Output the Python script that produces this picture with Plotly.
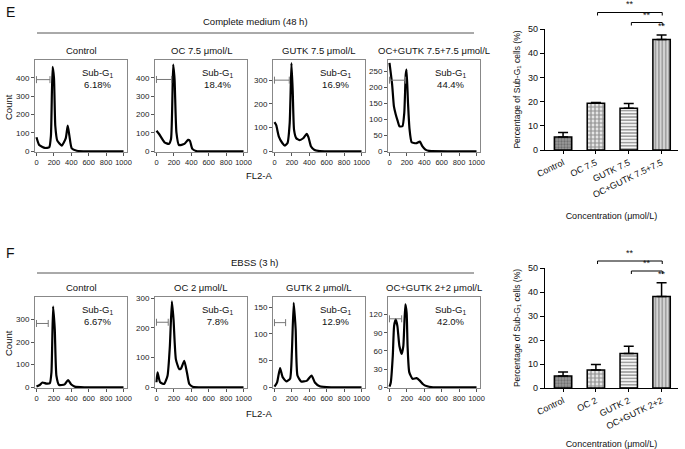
import plotly.graph_objects as go

W, H = 685, 449
FONT = "Liberation Sans, Arial, sans-serif"

# ---------------- data ----------------
e_titles = ["Control", "OC 7.5 μmol/L", "GUTK 7.5 μmol/L", "OC+GUTK 7.5+7.5 μmol/L"]
f_titles = ["Control", "OC 2 μmol/L", "GUTK 2 μmol/L", "OC+GUTK 2+2 μmol/L"]
e_subg1 = ["6.18%", "18.4%", "16.9%", "44.4%"]
f_subg1 = ["6.67%", "7.8%", "12.9%", "42.0%"]

# flow cytometry histograms (FL2-A vs Count)
e1_x = [0, 31, 97, 147, 166, 185, 201, 216, 239, 290, 336, 359, 378, 405, 463, 600, 1000]
e1_y = [76, 34, 18, 22, 85, 460, 400, 139, 58, 31, 70, 140, 85, 16, 3, 0, 0]
e2_x = [0, 30, 92, 142, 167, 192, 208, 229, 258, 321, 362, 383, 412, 467, 600, 1000]
e2_y = [112, 94, 49, 40, 67, 472, 391, 103, 34, 40, 62, 58, 13, 0, 0, 0]
e3_x = [0, 20, 50, 90, 120, 150, 175, 195, 210, 225, 250, 290, 330, 370, 390, 420, 460, 520, 1000]
e3_y = [123, 110, 62, 35, 24, 35, 120, 372, 250, 90, 55, 47, 55, 73, 60, 20, 5, 1, 0]
e4_x = [0, 30, 51, 72, 94, 115, 149, 170, 187, 196, 213, 230, 255, 306, 349, 379, 413, 455, 1000]
e4_y = [276, 210, 140, 115, 95, 78, 78, 120, 240, 255, 150, 70, 28, 25, 30, 15, 5, 1, 0]
f1_x = [0, 38, 69, 115, 153, 172, 191, 210, 229, 260, 324, 363, 400, 439, 550, 1000]
f1_y = [3, 10, 21, 16, 18, 66, 357, 257, 51, 10, 13, 32, 12, 3, 0, 0]
f2_x = [0, 12, 42, 88, 127, 154, 177, 196, 223, 262, 281, 319, 350, 377, 415, 550, 1000]
f2_y = [17, 50, 17, 11, 39, 139, 289, 228, 94, 61, 63, 89, 50, 11, 2, 0, 0]
f3_x = [0, 30, 64, 94, 136, 179, 200, 221, 243, 264, 306, 370, 426, 464, 519, 650, 1000]
f3_y = [1, 9, 36, 19, 11, 16, 66, 158, 109, 22, 11, 12, 22, 9, 2, 0, 0]
f4_x = [0, 15, 38, 53, 72, 91, 114, 140, 159, 182, 197, 208, 227, 265, 311, 348, 386, 424, 500, 1000]
f4_y = [1, 8, 52, 101, 112, 101, 68, 55, 68, 137, 123, 68, 25, 14, 15, 11, 5, 2, 0, 0]

hist_x = [e1_x, e2_x, e3_x, e4_x, f1_x, f2_x, f3_x, f4_x]
hist_y = [e1_y, e2_y, e3_y, e4_y, f1_y, f2_y, f3_y, f4_y]
hist_ymax = [497, 497, 385, 285, 399, 304, 169, 149]
hist_dtick = [100, 100, 100, 50, 100, 100, 50, 30]
# sub-G1 gate (end of gate on FL2-A, height on Count axis)
gate_end = [155, 175, 170, 185, 135, 135, 128, 140]
gate_y = [390, 391, 300, 222, 282, 219, 121, 113]

# bar charts: percentage of sub-G1 cells
e_cats = ["Control", "OC 7.5", "GUTK 7.5", "OC+GUTK 7.5+7.5"]
e_vals = [5.4, 19.3, 17.3, 45.7]
e_err = [1.8, 0.3, 1.9, 1.8]
f_cats = ["Control", "OC 2", "GUTK 2", "OC+GUTK 2+2"]
f_vals = [5.0, 7.5, 14.4, 38.1]
f_err = [1.7, 2.3, 3.0, 5.8]

# ---------------- layout helpers ----------------
def px(x):
    return x / W

def py(y):
    return 1 - y / H

hist_left = [35, 155, 273, 388]
hist_w = 92
row_tb = [(60, 152), (297, 388)]

fig = go.Figure()
annotations = []
shapes = []

def axname(prefix, n):
    return prefix if n == 1 else f"{prefix}{n}"

for i in range(8):
    n = i + 1
    row = i // 4
    col = i % 4
    xr = "x" if n == 1 else f"x{n}"
    yr = "y" if n == 1 else f"y{n}"
    fig.add_trace(go.Scatter(
        x=hist_x[i], y=hist_y[i], mode="lines",
        line=dict(color="black", width=2.2, shape="spline", smoothing=0.5),
        xaxis=xr, yaxis=yr, showlegend=False, hoverinfo="skip"))
    fig.add_trace(go.Scatter(
        x=[0, gate_end[i]], y=[gate_y[i], gate_y[i]], mode="lines+markers",
        line=dict(color="#777", width=1),
        marker=dict(symbol="line-ns-open", size=5, color="#777", line=dict(width=1, color="#777")),
        xaxis=xr, yaxis=yr, showlegend=False, hoverinfo="skip", cliponaxis=False))
    top, bot = row_tb[row]
    left = hist_left[col]
    fig.update_layout(**{
        axname("xaxis", n): dict(
            domain=[px(left), px(left + hist_w)], anchor=yr, range=[-17, 1040],
            tickvals=[0, 200, 400, 600, 800, 1000], ticks="outside", ticklen=3,
            tickcolor="#555", showline=True, mirror=True, linecolor="#888", linewidth=1,
            showgrid=False, zeroline=False, automargin=False,
            tickfont=dict(size=7.5, color="#222", family=FONT)),
        axname("yaxis", n): dict(
            domain=[py(bot), py(top)], anchor=xr, range=[-hist_ymax[i] * 0.008, hist_ymax[i]],
            dtick=hist_dtick[i], tick0=0, ticks="outside", ticklen=3, tickcolor="#555",
            showline=True, mirror=True, linecolor="#888", linewidth=1,
            showgrid=False, zeroline=False, automargin=False,
            tickfont=dict(size=8, color="#222", family=FONT)),
    })
    title = (e_titles if row == 0 else f_titles)[col]
    pct = (e_subg1 if row == 0 else f_subg1)[col]
    annotations.append(dict(text=title, xref="paper", yref="paper",
                            x=px(left + hist_w / 2), y=py(top - 10), xanchor="center",
                            yanchor="middle", showarrow=False,
                            font=dict(size=9.5, color="#111", family=FONT)))
    annotations.append(dict(text="Sub-G<sub>1</sub><br>" + pct, xref=f"{xr} domain",
                            yref=f"{yr} domain", x=0.87, y=0.95, xanchor="right",
                            yanchor="top", align="center", showarrow=False,
                            font=dict(size=9.5, color="#111", family=FONT)))

# bar charts
bar_specs = [
    (9, e_cats, e_vals, e_err, (29, 150)),
    (10, f_cats, f_vals, f_err, (268, 388)),
]
for n, cats, vals, err, (top, bot) in bar_specs:
    xr, yr = f"x{n}", f"y{n}"
    fig.add_trace(go.Bar(
        x=cats, y=vals, xaxis=xr, yaxis=yr, width=0.53,
        marker=dict(
            color=["#9a9a9a", "white", "white", "white"],
            line=dict(color="black", width=1.5),
            pattern=dict(shape=[".", ".", "-", "|"],
                         fgcolor=["#333", "black", "black", "black"],
                         bgcolor=["#b5b5b5", "white", "white", "white"],
                         size=[3, 4, 3.2, 3.4], solidity=[0.45, 0.7, 0.55, 0.72],
                         fillmode="overlay")),
        error_y=dict(type="data", array=err, arrayminus=[0, 0, 0, 0], symmetric=False,
                     color="black", thickness=1.5, width=5),
        showlegend=False, hoverinfo="skip"))
    fig.update_layout(**{
        f"xaxis{n}": dict(domain=[px(545), px(678)], anchor=yr, range=[-0.55, 3.5],
                          type="category", showline=True, linecolor="black", linewidth=1.2,
                          ticks="outside", ticklen=3, tickcolor="black", tickangle=-26,
                          showgrid=False, automargin=False,
                          tickfont=dict(size=9, color="#111", family=FONT),
                          title=dict(text="Concentration (μmol/L)", standoff=13,
                                     font=dict(size=9, color="#111", family=FONT))),
        f"yaxis{n}": dict(domain=[py(bot), py(top)], anchor=xr, range=[0, 50], dtick=10,
                          showline=True, linecolor="black", linewidth=1.2, ticks="outside",
                          ticklen=4, tickcolor="black", showgrid=False, zeroline=False,
                          automargin=False,
                          tickfont=dict(size=9, color="#111", family=FONT),
                          title=dict(text="Percentage of Sub-G<sub>1</sub> cells (%)", standoff=6,
                                     font=dict(size=8.5, color="#111", family=FONT))),
    })

# significance brackets (x on category axis, y in image pixels)
def bracket(n, xa, xb, yline, drop):
    xr = f"x{n}"
    for (x0, y0, x1, y1) in [(xa, yline, xb, yline), (xa, yline, xa, yline + drop),
                             (xb, yline, xb, yline + drop)]:
        shapes.append(dict(type="line", xref=xr, yref="paper", x0=x0, x1=x1,
                           y0=py(y0), y1=py(y1), line=dict(color="black", width=1)))
    annotations.append(dict(text="**", xref=xr, yref="paper", x=(xa + xb) / 2,
                            y=py(yline - 1), yanchor="bottom", showarrow=False,
                            font=dict(size=9, color="#111", family=FONT)))

bracket(9, 1.05, 3.02, 12.5, 3)
bracket(9, 2.08, 3.02, 22.5, 3)
annotations.append(dict(text="**", xref="x9", yref="paper", x=3, y=py(33), yanchor="bottom",
                        showarrow=False, font=dict(size=9, color="#111", family=FONT)))
bracket(10, 1.05, 3.02, 261, 3)
bracket(10, 2.08, 3.02, 271, 3)
annotations.append(dict(text="**", xref="x10", yref="paper", x=3, y=py(281), yanchor="bottom",
                        showarrow=False, font=dict(size=9, color="#111", family=FONT)))

# headers, panel letters, shared axis labels
for letter, ly, header, hy, liney, fly, cy in [
    ("E", 12, "Complete medium (48 h)", 21, 33, 176, 107),
    ("F", 253, "EBSS (3 h)", 262, 273, 413, 343),
]:
    annotations.append(dict(text=letter, xref="paper", yref="paper", x=px(4), y=py(ly),
                            xanchor="left", yanchor="middle", showarrow=False,
                            font=dict(size=14, color="#111", family=FONT)))
    annotations.append(dict(text=header, xref="paper", yref="paper", x=px(255), y=py(hy),
                            xanchor="center", yanchor="middle", showarrow=False,
                            font=dict(size=9.5, color="#111", family=FONT)))
    shapes.append(dict(type="line", xref="paper", yref="paper", x0=px(37), x1=px(474),
                       y0=py(liney), y1=py(liney), line=dict(color="#555", width=1)))
    annotations.append(dict(text="FL2-A", xref="paper", yref="paper", x=px(259), y=py(fly),
                            xanchor="center", yanchor="middle", showarrow=False,
                            font=dict(size=9.5, color="#111", family=FONT)))
    annotations.append(dict(text="Count", xref="paper", yref="paper", x=px(8), y=py(cy),
                            xanchor="center", yanchor="middle", showarrow=False, textangle=-90,
                            font=dict(size=9.5, color="#111", family=FONT)))

fig.update_layout(width=W, height=H, margin=dict(l=0, r=0, t=0, b=0, autoexpand=False),
                  paper_bgcolor="white", plot_bgcolor="white",
                  annotations=annotations, shapes=shapes, bargap=0.45,
                  font=dict(family=FONT, color="#111"))

fig.write_html("out.html", config={"displayModeBar": False},
               post_script="document.body.style.margin='0';document.body.style.overflow='hidden';")
